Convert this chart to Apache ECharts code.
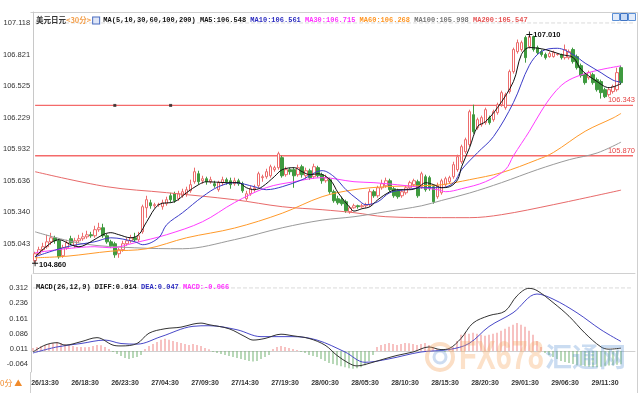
<!DOCTYPE html>
<html><head><meta charset="utf-8">
<script src="https://cdn.jsdelivr.net/npm/echarts@6/dist/echarts.min.js"></script>
<style>html,body{margin:0;padding:0;background:#fff}#c{width:640px;height:400px}</style>
</head><body><div id="c"></div>
<script>
// ---------- data ----------
const priceTicks = [105.043,105.340,105.636,105.932,106.229,106.525,106.821,107.118];
const macdTicks = [-0.064,0.011,0.086,0.161,0.236,0.312];
const timeTicks = ['26/13:30','26/18:30','26/23:30','27/04:30','27/09:30','27/14:30','27/19:30','28/00:30','28/05:30','28/10:30','28/15:30','28/20:30','29/01:30','29/06:30','29/11:30'];
const maNames = ['MA5','MA10','MA30','MA60','MA100','MA200'];
const maLast = [106.548,106.561,106.715,106.268,105.998,105.547];
const macdLast = {diff:0.014, dea:0.047, macd:-0.066};
const levels = [106.343, 105.870];
const lineHandles = [[20,106.343],[34,106.343]];

// [open, close, low, high]
const candles = [
[104.883,104.949,104.860,104.968],[104.949,104.987,104.930,105.015],[104.987,105.015,104.968,105.052],[105.015,105.061,104.996,105.127],[105.061,105.099,105.033,105.146],
[105.099,105.071,105.043,105.118],[105.071,104.920,104.902,105.090],[104.930,105.005,104.911,105.033],[105.005,105.052,104.987,105.080],[105.090,105.052,105.033,105.118],
[105.024,105.071,105.005,105.099],[105.071,105.090,105.052,105.127],[105.090,105.108,105.071,105.146],[105.108,105.127,105.090,105.165],[105.127,105.118,105.099,105.155],
[105.118,105.175,105.099,105.212],[105.175,105.193,105.155,105.240],[105.193,105.118,105.099,105.231],[105.118,105.061,105.043,105.137],[105.061,105.024,105.005,105.080],
[105.043,104.939,104.911,105.061],[104.949,104.987,104.911,105.005],[104.987,105.043,104.968,105.071],[105.043,105.071,105.024,105.099],[105.071,105.099,105.052,105.127],
[105.099,105.080,105.061,105.146],[105.080,105.118,105.061,105.155],[105.155,105.391,105.137,105.410],[105.381,105.457,105.287,105.494],[105.428,105.400,105.372,105.457],
[105.400,105.410,105.381,105.428],[105.410,105.412,105.391,105.428],[105.391,105.428,105.363,105.457],[105.419,105.457,105.400,105.485],[105.494,105.457,105.428,105.522],
[105.513,105.447,105.428,105.532],[105.466,105.513,105.447,105.541],[105.494,105.532,105.475,105.560],[105.513,105.551,105.485,105.579],[105.541,105.598,105.522,105.645],
[105.626,105.720,105.607,105.758],[105.701,105.626,105.598,105.729],[105.635,105.654,105.607,105.682],[105.654,105.626,105.598,105.673],[105.626,105.645,105.607,105.673],
[105.607,105.588,105.569,105.635],[105.551,105.617,105.532,105.635],[105.617,105.645,105.588,105.673],[105.645,105.626,105.598,105.664],[105.635,105.598,105.560,105.664],
[105.607,105.635,105.588,105.664],[105.635,105.607,105.588,105.654],[105.607,105.541,105.522,105.626],[105.466,105.513,105.447,105.541],[105.513,105.560,105.494,105.588],
[105.560,105.569,105.532,105.598],[105.588,105.701,105.569,105.720],[105.664,105.673,105.626,105.692],[105.673,105.720,105.654,105.748],[105.682,105.767,105.664,105.786],
[105.739,105.758,105.720,105.776],[105.758,105.889,105.739,105.908],[105.852,105.682,105.664,105.870],[105.692,105.739,105.673,105.767],[105.739,105.720,105.692,105.758],
[105.739,105.682,105.569,105.758],[105.692,105.758,105.673,105.786],[105.767,105.692,105.664,105.786],[105.682,105.729,105.654,105.758],[105.729,105.664,105.645,105.748],
[105.673,105.767,105.654,105.795],[105.758,105.682,105.664,105.776],[105.692,105.635,105.607,105.711],[105.635,105.664,105.617,105.692],[105.645,105.532,105.513,105.664],
[105.532,105.447,105.428,105.551],[105.466,105.428,105.410,105.494],[105.457,105.419,105.400,105.485],[105.438,105.353,105.334,105.457],[105.344,105.381,105.325,105.400],
[105.381,105.400,105.372,105.419],[105.400,105.391,105.372,105.410],[105.391,105.400,105.381,105.419],[105.400,105.410,105.381,105.428],[105.410,105.532,105.391,105.560],
[105.532,105.494,105.475,105.551],[105.494,105.569,105.475,105.588],[105.569,105.607,105.551,105.645],[105.588,105.635,105.569,105.664],[105.635,105.551,105.532,105.654],
[105.560,105.494,105.475,105.579],[105.541,105.485,105.466,105.560],[105.494,105.532,105.475,105.551],[105.522,105.569,105.504,105.588],[105.569,105.617,105.551,105.635],
[105.598,105.635,105.579,105.654],[105.626,105.494,105.475,105.645],[105.579,105.701,105.560,105.720],[105.673,105.551,105.532,105.692],[105.664,105.560,105.541,105.682],
[105.579,105.438,105.419,105.598],[105.485,105.588,105.466,105.617],[105.522,105.635,105.504,105.654],[105.598,105.654,105.579,105.673],[105.626,105.664,105.607,105.682],
[105.673,105.786,105.654,105.814],[105.739,105.861,105.720,105.880],[105.814,105.955,105.795,105.974],[105.908,106.021,105.889,106.040],[105.974,106.284,105.955,106.303],
[106.256,106.096,106.077,106.350],[106.134,106.209,106.115,106.228],[106.162,106.228,106.143,106.247],[106.181,106.303,106.162,106.322],[106.228,106.181,106.162,106.247],
[106.209,106.284,106.190,106.303],[106.275,106.350,106.256,106.369],[106.350,106.463,106.331,106.482],[106.322,106.444,106.303,106.463],[106.473,106.661,106.454,106.680],
[106.661,106.868,106.642,106.886],[106.849,106.933,106.830,106.962],[106.868,106.933,106.849,106.952],[106.981,106.792,106.745,106.999],[106.896,106.990,106.877,107.010],
[106.990,106.868,106.849,106.999],[106.886,106.839,106.821,106.905],[106.849,106.821,106.802,106.868],[106.821,106.792,106.774,106.839],[106.802,106.830,106.792,106.849],
[106.802,106.839,106.792,106.858],[106.821,106.823,106.811,106.830],[106.821,106.792,106.774,106.830],[106.792,106.868,106.774,106.915],[106.792,106.849,106.774,106.868],
[106.868,106.755,106.736,106.886],[106.802,106.698,106.680,106.821],[106.717,106.623,106.604,106.736],[106.632,106.557,106.538,106.651],[106.604,106.651,106.585,106.670],
[106.632,106.557,106.538,106.651],[106.585,106.491,106.473,106.604],[106.567,106.463,106.407,106.585],[106.491,106.425,106.412,106.510],[106.444,106.491,106.425,106.510],
[106.473,106.520,106.454,106.538],[106.491,106.651,106.473,106.698],[106.698,106.557,106.538,106.717]
];

// moving averages: [candle index, value]
const ma5 = [[0,104.921],[4,105.052],[6,105.081],[9,105.034],[11,105.015],[14,105.062],[17,105.128],[19,105.147],[21,105.128],[24,105.099],[26,105.128],[28,105.250],[31,105.410],[35,105.438],[38,105.523],[41,105.598],[43,105.626],[48,105.617],[51,105.617],[53,105.570],[55,105.551],[57,105.579],[60,105.673],[62,105.739],[65,105.758],[67,105.720],[69,105.692],[71,105.701],[74,105.645],[76,105.523],[79,105.382],[80,105.350],[82,105.372],[84,105.391],[86,105.457],[89,105.532],[91,105.551],[94,105.551],[96,105.570],[98,105.617],[100,105.598],[102,105.570],[104,105.579],[106,105.645],[107,105.767],[109,105.946],[111,106.144],[113,106.191],[116,106.322],[120,106.567],[122,106.821],[124,106.887],[128,106.868],[132,106.821],[135,106.793],[137,106.680],[141,106.567],[144,106.510],[147,106.548]];
const ma10 = [[0,104.921],[8,105.015],[15,105.062],[19,105.099],[25,105.062],[27,105.034],[31,105.099],[33,105.222],[37,105.335],[42,105.485],[46,105.579],[50,105.617],[55,105.579],[58,105.551],[62,105.579],[67,105.645],[72,105.730],[75,105.673],[78,105.551],[81,105.457],[83,105.410],[86,105.438],[89,105.523],[93,105.551],[98,105.570],[102,105.570],[105,105.617],[107,105.739],[111,105.899],[115,106.050],[120,106.370],[124,106.720],[127,106.850],[131,106.880],[135,106.820],[138,106.740],[142,106.650],[145,106.580],[147,106.561]];
const ma30 = [[0,104.958],[15,105.015],[19,105.005],[25,105.052],[33,105.128],[42,105.250],[50,105.429],[58,105.570],[65,105.626],[72,105.664],[80,105.626],[85,105.617],[93,105.589],[101,105.551],[103,105.532],[107,105.560],[113,105.626],[118,105.740],[120,105.870],[124,106.100],[127,106.290],[130,106.450],[133,106.560],[137,106.630],[142,106.680],[147,106.715]];
const ma60 = [[0,104.911],[8,104.926],[19,104.973],[28,104.996],[38,105.099],[50,105.190],[62,105.330],[72,105.485],[80,105.551],[88,105.579],[97,105.589],[102,105.598],[109,105.645],[117,105.711],[126,105.833],[130,105.900],[138,106.100],[145,106.225],[147,106.268]];
const ma100 = [[0,105.155],[12,105.043],[25,105.005],[37,104.996],[50,105.081],[62,105.193],[72,105.265],[80,105.297],[88,105.344],[97,105.400],[102,105.450],[109,105.520],[117,105.617],[126,105.739],[134,105.833],[141,105.896],[147,105.998]];
const ma200 = [[0,105.720],[18,105.579],[33,105.523],[50,105.457],[62,105.391],[72,105.363],[80,105.335],[88,105.297],[102,105.288],[109,105.288],[117,105.316],[130,105.410],[147,105.547]];

const diffPts = [[0,-0.005],[3,0.029],[6,0.041],[8,0.029],[12,0.046],[16,0.066],[20,0.029],[22,0.025],[26,0.037],[29,0.088],[33,0.110],[37,0.118],[40,0.133],[42,0.138],[44,0.130],[49,0.110],[53,0.071],[55,0.054],[58,0.062],[62,0.083],[65,0.075],[69,0.062],[73,0.029],[76,-0.022],[79,-0.061],[81,-0.074],[83,-0.067],[87,-0.044],[91,-0.022],[95,-0.005],[99,0.020],[102,0.007],[104,0.012],[107,0.062],[110,0.138],[114,0.175],[118,0.197],[121,0.273],[124,0.310],[126,0.299],[130,0.240],[134,0.172],[138,0.088],[142,0.020],[144,0.009],[147,0.014]];
const deaPts = [[0,-0.010],[6,0.020],[12,0.037],[18,0.054],[22,0.037],[26,0.034],[32,0.071],[40,0.122],[44,0.125],[51,0.105],[57,0.071],[65,0.071],[71,0.054],[78,-0.005],[83,-0.056],[89,-0.039],[97,-0.005],[104,0.007],[109,0.037],[114,0.121],[120,0.189],[126,0.282],[130,0.257],[136,0.189],[142,0.105],[147,0.047]];
const hist = [
0.015,0.02,0.025,0.03,0.035,0.04,0.045,0.04,0.035,0.03,
0.025,0.02,0.02,0.018,0.02,0.025,0.03,0.028,0.02,0.01,
-0.005,-0.015,-0.025,-0.035,-0.04,-0.035,-0.03,-0.02,0.01,0.025,
0.035,0.045,0.055,0.06,0.055,0.05,0.045,0.04,0.035,0.03,
0.035,0.03,0.025,0.015,0.008,-0.005,-0.01,-0.015,-0.02,-0.025,
-0.03,-0.035,-0.04,-0.045,-0.05,-0.052,-0.05,-0.04,-0.03,-0.02,
0.01,0.02,0.025,0.02,0.015,0.01,0.005,-0.005,-0.01,-0.02,
-0.025,-0.03,-0.04,-0.05,-0.06,-0.065,-0.07,-0.075,-0.08,-0.085,
-0.088,-0.085,-0.08,-0.07,-0.05,-0.02,0.02,0.03,0.035,0.04,
0.035,0.03,0.035,0.04,0.038,0.035,0.03,0.035,0.04,0.03,
0.02,0.01,0.005,-0.005,0.005,0.02,0.05,0.08,0.09,0.085,
0.09,0.085,0.08,0.075,0.08,0.085,0.09,0.1,0.11,0.12,
0.13,0.138,0.13,0.12,0.1,0.08,0.05,0.02,-0.01,-0.02,
-0.03,-0.04,-0.05,-0.055,-0.06,-0.065,-0.07,-0.072,-0.075,-0.078,
-0.08,-0.08,-0.078,-0.075,-0.072,-0.07,-0.068,-0.066];

// ---------- categories (30-minute bars from 26/12:00) ----------
const SLOTS = 151;
const cats = [];
for (let k = 0; k < SLOTS; k++) {
  const m = 12*60 + 30*k;
  const d = 26 + Math.floor(m/1440), mm = m % 1440;
  const p = n => (n<10?'0':'') + n;
  cats.push(d + '/' + p(Math.floor(mm/60)) + ':' + p(mm%60));
}

const MONO = "'Liberation Mono','DejaVu Sans Mono',monospace";
const SANS = "'Liberation Sans',Arial,sans-serif";
const maColors = ['#111111','#3b3bc8','#ff3cff','#ff9a2a','#9a9a9a','#e86a6a'];
const maHeadColors = ['#111111','#2c2cc0','#ff30ff','#ff9522','#777777','#e65555'];
const maSeries = [ma5, ma10, ma30, ma60, ma100, ma200];

const headRich = {
  n:{fontFamily:"'Noto Sans CJK SC',sans-serif",fontSize:7.5,color:'#333'},
  o:{fontFamily:"'Noto Sans CJK SC',sans-serif",fontSize:7.5,color:'#f4a04c'},
  i:{width:6,height:6,borderColor:'#4a6cc0',borderWidth:1,backgroundColor:'#dfe6f7'},
  sp:{fontFamily:MONO,fontSize:7},
  k:{fontFamily:MONO,fontSize:7,color:'#111'}
};
maHeadColors.forEach((c,j)=>{ headRich['c'+j] = {fontFamily:MONO,fontSize:7,color:c}; });
let headText = '{n|美元日元}{o|<30分>} {i|}{sp| }{k|MA(5,10,30,60,100,200)}';
maNames.forEach((nm,j)=>{ headText += '{k| }{c'+j+'|' + nm + ':' + maLast[j].toFixed(3) + '}'; });

const macdText = '{k|MACD(26,12,9) DIFF:' + macdLast.diff.toFixed(3) + ' }{b|DEA:' + macdLast.dea.toFixed(3) + ' }{m|MACD:' + macdLast.macd.toFixed(3) + '}';

const plusPath = 'path://M3,0h1v3h3v1h-3v3h-1v-3h-3v-1h3z';

// horizontal reference line drawn as a two-point line series across all slots
function hLine(xi, yi, v, color, width, dashed, withLabel) {
  const s = {type:'line', xAxisIndex:xi, yAxisIndex:yi, data:[[0, v], [SLOTS-1, v]], z:1, silent:true,
    showSymbol:false, symbol:'none', color:color,
    lineStyle:{color:color, width:width, type:dashed?'dashed':'solid'}};
  if (withLabel) s.endLabel = {show:true, formatter:p=>p.value[1].toFixed(3), color:'#e54545', fontSize:7.5,
    fontFamily:SANS, align:'right', verticalAlign:'bottom', distance:2, offset:[0,-1]};
  return s;
}

const chart = echarts.init(document.getElementById('c'), null, {renderer:'canvas'});
const option = {
  animation:false,
  backgroundColor:'#ffffff',
  title:[
    {left:31, top:11, text:headText, textStyle:{rich:headRich, fontSize:7, lineHeight:9}},
    {left:31, top:278, text:macdText, textStyle:{fontSize:7, lineHeight:9, rich:{
      k:{fontFamily:MONO,fontSize:7,color:'#111'},
      b:{fontFamily:MONO,fontSize:7,color:'#2c2cc0'},
      m:{fontFamily:MONO,fontSize:7,color:'#ff30ff'}}}}
  ],
  grid:[
    {left:31, top:12, width:604, height:261},
    {left:31, top:275, width:604, height:97}
  ],
  xAxis:[
    {type:'category', gridIndex:0, data:cats, boundaryGap:true,
     axisLine:{lineStyle:{color:'#d0d0d0'}}, axisTick:{show:false}, axisLabel:{show:false}, splitLine:{show:false}},
    {type:'category', gridIndex:1, data:cats, boundaryGap:true,
     axisLine:{lineStyle:{color:'#d0d0d0'}}, axisTick:{show:false},
     axisLabel:{interval:(idx,val)=>timeTicks.indexOf(val)>=0, fontSize:7, fontWeight:'bold', color:'#333', fontFamily:SANS, margin:8},
     splitLine:{show:false}}
  ],
  yAxis:[
    {type:'value', gridIndex:0, min:104.768, max:107.221,
     axisLine:{show:true, lineStyle:{color:'#c8c8c8'}}, axisTick:{show:false}, splitLine:{show:false},
     axisLabel:{customValues:priceTicks, formatter:v=>v.toFixed(3), fontSize:7.5, color:'#333', fontFamily:SANS, margin:3}},
    {type:'value', gridIndex:1, min:-0.104, max:0.376,
     axisLine:{show:true, lineStyle:{color:'#c8c8c8'}}, axisTick:{show:false}, splitLine:{show:false},
     axisLabel:{customValues:macdTicks, formatter:v=>v.toFixed(3), fontSize:7.5, color:'#333', fontFamily:SANS, margin:3}}
  ],
  series:[
    hLine(0, 0, priceTicks[priceTicks.length-1], '#dadada', 1, true, false),
    hLine(1, 1, macdTicks[macdTicks.length-1], '#dadada', 1, true, false),
    ...levels.map(v=>hLine(0, 0, v, '#f46a6a', 1.4, false, true)),
    {type:'candlestick', xAxisIndex:0, yAxisIndex:0, data:candles, barWidth:3, z:2,
     itemStyle:{color:'#ffffff', borderColor:'#ec6c6c', color0:'#3f9a3f', borderColor0:'#3f9a3f', borderWidth:1},
     markPoint:{silent:true, animation:false,
       data:[
         {type:'max', valueDim:'highest', symbol:plusPath, symbolSize:6, itemStyle:{color:'#111'},
          label:{show:true, position:'right', distance:1, formatter:p=>p.value.toFixed(3), color:'#111', fontWeight:'bold', fontSize:7.5, fontFamily:SANS}},
         {type:'min', valueDim:'lowest', symbol:plusPath, symbolSize:6, itemStyle:{color:'#111'},
          label:{show:true, position:'right', distance:1, offset:[0,2], formatter:p=>p.value.toFixed(3), color:'#111', fontWeight:'bold', fontSize:7.5, fontFamily:SANS}}
       ]}
    },
    ...maSeries.map((d,j)=>({type:'line', name:maNames[j], xAxisIndex:0, yAxisIndex:0, data:d, smooth:0.35,
      showSymbol:false, symbol:'none', z:3+(5-j), lineStyle:{color:maColors[j], width:1}})),
    {type:'scatter', xAxisIndex:0, yAxisIndex:0, data:lineHandles, symbol:'rect', symbolSize:3, itemStyle:{color:'#222'}, z:10},
    {type:'bar', xAxisIndex:1, yAxisIndex:1, data:hist, barWidth:1, z:2,
     itemStyle:{color:p=>p.value>=0?'#ef8585':'#72b272'}},
    {type:'line', xAxisIndex:1, yAxisIndex:1, data:diffPts, smooth:0.35, showSymbol:false, symbol:'none', z:4, lineStyle:{color:'#333', width:1}},
    {type:'line', xAxisIndex:1, yAxisIndex:1, data:deaPts, smooth:0.35, showSymbol:false, symbol:'none', z:3, lineStyle:{color:'#4848c8', width:1}}
  ],
  graphic:[
    {type:'line', shape:{x1:30.5,y1:12.5,x2:637.5,y2:12.5}, style:{stroke:'#cfcfcf', lineWidth:1}, silent:true},
    {type:'line', shape:{x1:637.5,y1:12.5,x2:637.5,y2:393}, style:{stroke:'#cfcfcf', lineWidth:1}, silent:true},
    {type:'line', shape:{x1:30.5,y1:372,x2:30.5,y2:393}, style:{stroke:'#cfcfcf', lineWidth:1}, silent:true},
    {type:'rect', shape:{x:612.5,y:13.5,width:7,height:7}, style:{fill:'#e3ecfa', stroke:'#5b8fd6'}, silent:true},
    {type:'rect', shape:{x:620.5,y:13.5,width:7,height:7}, style:{fill:'#c8daf5', stroke:'#3f74c4'}, silent:true},
    {type:'rect', shape:{x:628.5,y:13.5,width:7,height:7}, style:{fill:'#e3ecfa', stroke:'#5b8fd6'}, silent:true},
    {type:'text', left:0, top:379, style:{text:'0分 ▲', fill:'#f08a2a', font:"8px 'Noto Sans CJK SC'"}, silent:true},
    {type:'circle', shape:{cx:440, cy:357, r:13}, style:{fill:'none', stroke:'rgba(244,160,90,0.35)', lineWidth:4}, silent:true, z:20},
    {type:'circle', shape:{cx:440, cy:357, r:6}, style:{fill:'none', stroke:'rgba(90,140,210,0.3)', lineWidth:3}, silent:true, z:20},
    {type:'text', x:459, y:338, scaleX:0.72, style:{text:'FX678', fill:'rgba(246,170,100,0.35)', font:"bold 40px 'Liberation Sans'"}, silent:true, z:20},
    {type:'text', x:545, y:343, style:{text:'汇通网', fill:'rgba(80,140,210,0.3)', font:"bold 27px 'Noto Sans CJK SC'"}, silent:true, z:20}
  ]
};
chart.setOption(option);
</script>
</body></html>
